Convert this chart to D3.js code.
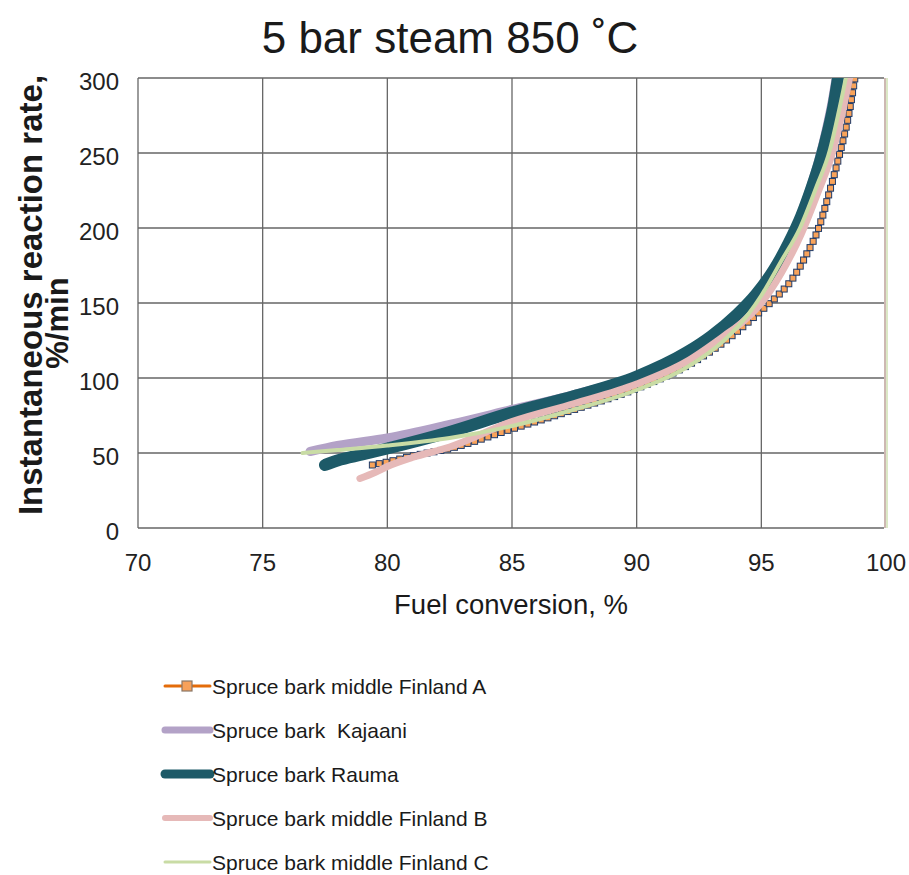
<!DOCTYPE html>
<head>
    <meta charset="utf-8">
    <title>5 bar steam 850 C</title>
    <style>
        body { margin: 0; background: #fff; }
        text { font-family: "Liberation Sans", Arial, sans-serif; fill: #1a1a1a; white-space: pre; }
        .grid line { stroke: #666; stroke-width: 1.3; }
        .tick-label { font-size: 24px; fill: #222; }
    </style>
</head>
<body>

<svg width="909" height="875"></svg>

<script src="https://cdnjs.cloudflare.com/ajax/libs/d3/7.8.5/d3.min.js"></script>

<script>

    // values: [fuel conversion %, rate %/min]
    var finlandA = [[79.4,42],[80,44],[81,48],[82.5,53],[85,66],[87.5,79],[90,93],[92,108],[93.5,124],
                    [95,145],[95.6,154],[96.2,165],[96.8,182],[97.3,200],[97.75,225],[98.15,250],[98.5,275],[98.8,305]];
    var kajaani  = [[76.9,51],[78,55],[80,60],[82.5,69],[85,79],[87.5,89],[90,101],[92,115],[93,126],
                    [94,140],[94.8,155],[95.5,171],[96.1,189],[96.55,207],[96.95,226],[97.3,245],[97.6,265],[97.85,285],[98.05,305]];
    var rauma    = [[77.5,42],[78,45],[79,49],[80,53],[82.5,64],[85,77],[87.5,88],[90,101],[92,117],[93,128],
                    [94,142],[94.8,156],[95.5,172],[96.1,190],[96.6,208],[97,226],[97.35,244],[97.65,263],[97.9,282],[98.12,305]];
    var finlandB = [[78.9,33],[79.5,37],[80,41],[81,47],[82.5,54],[85,71],[87.5,83],[90,96],[92,111],[93.5,128],
                    [94.3,138],[95,150],[95.8,170],[96.6,196],[97.3,225],[97.85,250],[98.25,277],[98.6,305]];
    var finlandC = [[76.6,50],[78,52],[80,55],[82.5,60],[85,68],[87.5,79],[90,92],[92,107],[93.5,125],
                    [94.5,143],[95,155],[95.8,178],[96.55,200],[97.2,227],[97.75,252],[98.1,277],[98.45,305]];

    var seriesNames = ["Spruce bark middle Finland A", "Spruce bark  Kajaani", "Spruce bark Rauma",
                       "Spruce bark middle Finland B", "Spruce bark middle Finland C"];
    var xTicks = [70, 75, 80, 85, 90, 95, 100];
    var yTicks = [0, 50, 100, 150, 200, 250, 300];

    var series = [
        { name: seriesNames[0], values: finlandA, color: "#e46c0a", width: 2, legendWidth: 3, marker: true },
        { name: seriesNames[1], values: kajaani,  color: "#b3a2c7", width: 9, legendWidth: 7 },
        { name: seriesNames[2], values: rauma,    color: "#1d5a68", width: 12, legendWidth: 9 },
        { name: seriesNames[3], values: finlandB, color: "#e6b9b8", width: 7, legendWidth: 6 },
        { name: seriesNames[4], values: finlandC, color: "#c9dca5", width: 4, legendWidth: 3 }
    ];

    var svg = d3.select("svg");

    var x = d3.scaleLinear().domain([70, 100]).range([138, 886]);
    var y = d3.scaleLinear().domain([0, 300]).range([528, 78]);

    // title
    svg.append("text")
        .attr("x", 450)
        .attr("y", 53)
        .attr("text-anchor", "middle")
        .attr("font-size", 44)
        .text("5 bar steam 850 ˚C");

    // grid
    var grid = svg.append("g").attr("class", "grid");
    grid.selectAll(".v").data(xTicks.slice(0, -1)).enter().append("line")
        .attr("x1", function(d) { return x(d); }).attr("x2", function(d) { return x(d); })
        .attr("y1", y(0)).attr("y2", y(300));
    grid.selectAll(".h").data(yTicks).enter().append("line")
        .attr("x1", x(70)).attr("x2", x(100) - 2)
        .attr("y1", function(d) { return y(d); }).attr("y2", function(d) { return y(d); });
    // right frame: pinkish with a pale green edge
    svg.append("line")
        .attr("x1", x(100) - 1).attr("x2", x(100) - 1).attr("y1", y(0)).attr("y2", y(300))
        .attr("stroke", "#cdb8b2").attr("stroke-width", 2);
    svg.append("line")
        .attr("x1", x(100) + 1).attr("x2", x(100) + 1).attr("y1", y(0)).attr("y2", y(300))
        .attr("stroke", "#dbe8c6").attr("stroke-width", 2);

    // tick labels
    svg.selectAll(".xt").data(xTicks).enter().append("text")
        .attr("class", "tick-label")
        .attr("x", function(d) { return x(d); })
        .attr("y", 571)
        .attr("text-anchor", "middle")
        .text(function(d) { return d; });
    svg.selectAll(".yt").data(yTicks).enter().append("text")
        .attr("class", "tick-label")
        .attr("x", 119)
        .attr("y", function(d) { return y(d) + 12; })
        .attr("text-anchor", "end")
        .text(function(d) { return d; });

    // axis titles
    svg.append("text")
        .attr("x", 511).attr("y", 614)
        .attr("text-anchor", "middle")
        .attr("font-size", 27.5)
        .text("Fuel conversion, %");
    svg.append("text")
        .attr("transform", "translate(42,295) rotate(-90)")
        .attr("text-anchor", "middle")
        .attr("font-size", 33)
        .attr("font-weight", "bold")
        .text("Instantaneous reaction rate,");
    svg.append("text")
        .attr("transform", "translate(68,323) rotate(-90)")
        .attr("text-anchor", "middle")
        .attr("font-size", 31)
        .attr("font-weight", "bold")
        .text("%/min");

    // series
    svg.append("clipPath").attr("id", "plot-clip")
        .append("rect")
        .attr("x", x(70)).attr("y", y(300))
        .attr("width", x(100) - x(70)).attr("height", y(0) - y(300) + 10);

    var line = d3.line()
        .x(function(d) { return x(d[0]); })
        .y(function(d) { return y(d[1]); })
        .curve(d3.curveMonotoneX);

    var plot = svg.append("g").attr("clip-path", "url(#plot-clip)");

    series.forEach(function(s) {
        var p = plot.append("path")
            .datum(s.values)
            .attr("d", line)
            .attr("fill", "none")
            .attr("stroke", s.color)
            .attr("stroke-width", s.width)
            .attr("stroke-linecap", "round")
            .attr("stroke-linejoin", "round");

        if (s.marker) {
            // dense markers along the drawn curve
            var node = p.node(), len = node.getTotalLength();
            plot.selectAll(".mk").data(d3.range(0, len, 7)).enter().append("rect")
                .each(function(l) {
                    var pt = node.getPointAtLength(l);
                    d3.select(this)
                        .attr("x", pt.x - 3).attr("y", pt.y - 3)
                        .attr("width", 6).attr("height", 6);
                })
                .attr("fill", "#f9a35a")
                .attr("stroke", "#1f3a68")
                .attr("stroke-width", 1);
        }
    });

    // legend
    var legend = svg.append("g").selectAll("g")
        .data(series)
        .enter().append("g")
        .attr("transform", function(d, i) { return "translate(165," + (686 + i * 44) + ")"; });

    legend.append("line")
        .attr("x1", 0).attr("x2", 45)
        .attr("stroke", function(d) { return d.color; })
        .attr("stroke-width", function(d) { return d.legendWidth; })
        .attr("stroke-linecap", "round");

    legend.filter(function(d) { return d.marker; }).append("rect")
        .attr("x", 17).attr("y", -5)
        .attr("width", 10).attr("height", 10)
        .attr("fill", "#f7a15a")
        .attr("stroke", "#8a7766")
        .attr("stroke-width", 1.2);

    legend.append("text")
        .attr("x", 47)
        .attr("y", 8)
        .attr("font-size", 21)
        .text(function(d) { return d.name; });

</script>

</body>
